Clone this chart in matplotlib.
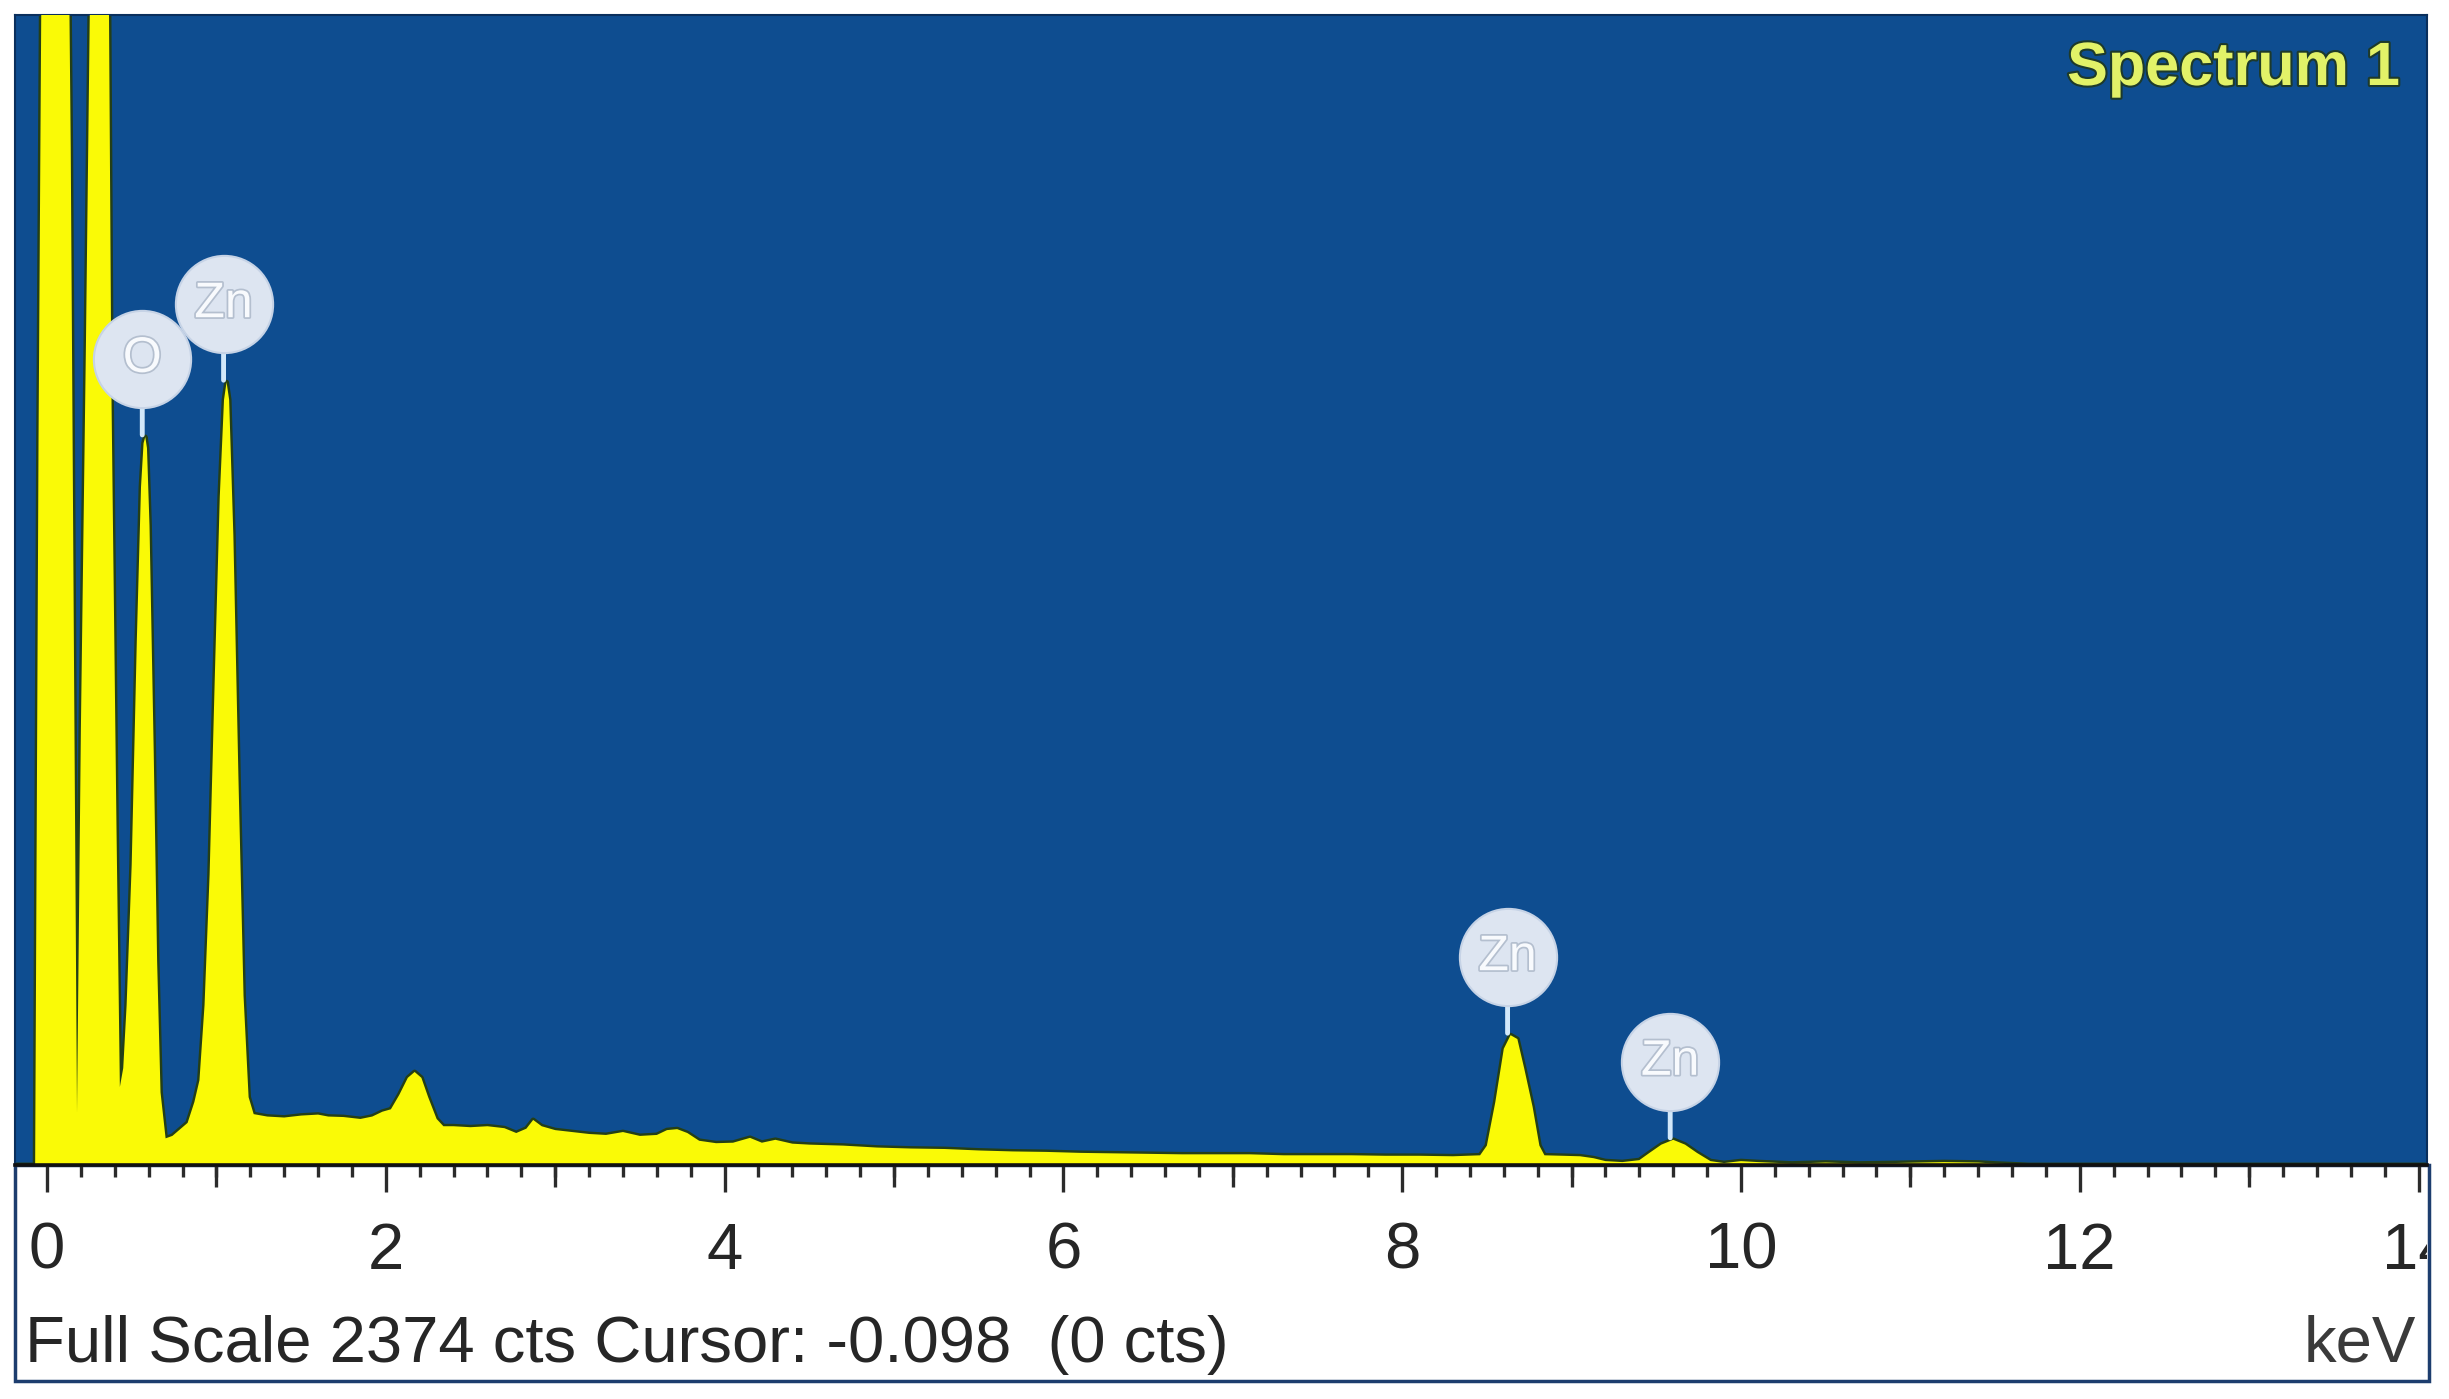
import matplotlib
matplotlib.use("Agg")
import matplotlib.pyplot as plt
from matplotlib.patches import Rectangle
from matplotlib.transforms import offset_copy
import matplotlib.patheffects as pe

plt.rcParams['font.family'] = ['Liberation Sans', 'DejaVu Sans']

# ---------------- data ----------------
energy_kev = [
    -0.19, -0.07, -0.05, -0.03, 0.00, 0.04, 0.08, 0.11, 0.14, 0.16,
    0.177, 0.20, 0.23, 0.26, 0.30, 0.33, 0.36, 0.38, 0.41, 0.43,
    0.45, 0.47, 0.50, 0.53, 0.555, 0.57, 0.58, 0.59,
    0.605, 0.63, 0.65, 0.67, 0.70, 0.74, 0.78, 0.83, 0.87, 0.90,
    0.93, 0.96, 0.99, 1.02, 1.045, 1.06, 1.075, 1.10, 1.13, 1.16,
    1.19, 1.22, 1.30, 1.40, 1.50, 1.60, 1.66, 1.75, 1.85, 1.92,
    1.98, 2.03, 2.08, 2.13, 2.17, 2.21, 2.25, 2.30, 2.34, 2.40,
    2.50, 2.60, 2.70, 2.77, 2.83, 2.87, 2.92, 3.00, 3.10, 3.20,
    3.30, 3.40, 3.50, 3.60, 3.66, 3.72, 3.78, 3.85, 3.95, 4.05,
    4.15, 4.22, 4.30, 4.40, 4.50, 4.70, 4.90, 5.10, 5.30, 5.50,
    5.70, 5.90, 6.10, 6.30, 6.50, 6.70, 6.90, 7.10, 7.30, 7.50,
    7.70, 7.90, 8.10, 8.30, 8.46, 8.50, 8.55, 8.60, 8.64, 8.68,
    8.72, 8.77, 8.81, 8.84, 8.95, 9.05, 9.13, 9.20, 9.30, 9.40,
    9.46, 9.53, 9.60, 9.67, 9.74, 9.82, 9.90, 10.00, 10.10, 10.30,
    10.50, 10.70, 10.90, 11.20, 11.40, 11.50, 11.70, 14.10,
]
counts = [
    0, 0, 1500, 2600, 4500, 5500, 4500, 3200, 2100, 1000,
    107, 900, 1700, 2600, 4000, 3800, 2700, 1600, 700, 161,
    200, 330, 620, 1080, 1400, 1490, 1503, 1480,
    1320, 850, 420, 150, 55, 60, 72, 87, 130, 175,
    330, 600, 1000, 1380, 1580, 1616, 1580, 1300, 800, 350,
    140, 105, 100, 98, 102, 104, 100, 99, 95, 100,
    110, 115, 145, 180, 192, 180, 140, 95, 80, 80,
    78, 80, 76, 66, 75, 93, 80, 72, 68, 64,
    62, 68, 60, 62, 72, 74, 66, 50, 45, 46,
    56, 46, 52, 44, 42, 40, 36, 34, 33, 30,
    28, 27, 25, 24, 23, 22, 22, 22, 20, 20,
    20, 19, 19, 18, 20, 40, 130, 240, 268, 260,
    200, 120, 40, 20, 19, 18, 14, 8, 6, 10,
    25, 42, 52, 42, 25, 8, 4, 8, 6, 3,
    5, 3, 4, 6, 5, 3, 0, 0,
]

peak_labels = ["O", "Zn", "Zn", "Zn"]
label_energy = [0.58, 1.06, 8.64, 9.60]
label_counts = [1503, 1616, 268, 52]

full_scale = 2374
major_ticks = [0, 2, 4, 6, 8, 10, 12, 14]
tick_labels = ["0", "2", "4", "6", "8", "10", "12", "14"]
odd_ticks = [1, 3, 5, 7, 9, 11, 13]
status_text = "Full Scale 2374 cts Cursor: -0.098  (0 cts)"
unit_text = "keV"
spectrum_title = "Spectrum 1"

# ---------------- figure ----------------
W, H = 2449, 1399
fig = plt.figure(figsize=(W / 100, H / 100), dpi=100)
fig.patch.set_facecolor('white')

ax_l, ax_r, ax_t, ax_b = 15, 2427, 15, 1165
ax = fig.add_axes([ax_l / W, 1 - ax_b / H, (ax_r - ax_l) / W, (ax_b - ax_t) / H])
ax.set_facecolor('#0e4d90')
ax.set_xlim(-0.189, 14.05)
ax.set_ylim(0, full_scale)

# spectrum: dark halo outline + yellow fill
ax.plot(energy_kev, counts, color='#243f16', lw=3.5, zorder=2)
ax.fill_between(energy_kev, counts, 0, color='#fafa06', lw=0, zorder=3)

# spines
for s in ['top', 'left', 'right']:
    ax.spines[s].set_color('#0a2f5c')
    ax.spines[s].set_linewidth(1.5)
ax.spines['bottom'].set_color('#111111')
ax.spines['bottom'].set_linewidth(2.6)
ax.spines['bottom'].set_zorder(5)

ax.set_yticks([])
ax.set_xticks(major_ticks)
ax.set_xticklabels(tick_labels)
ax.set_xticks([i * 0.2 for i in range(0, 71)], minor=True)
ax.tick_params(axis='x', which='major', direction='out', length=19.5, width=2.4,
               color='#2b2b2b', pad=21.5, labelsize=47, labelcolor='#262626')
ax.tick_params(axis='x', which='minor', direction='out', length=8.6, width=2.4,
               color='#2b2b2b')

sec = ax.secondary_xaxis('bottom')
sec.set_xticks(odd_ticks)
sec.tick_params(axis='x', length=15.5, width=2.4, color='#2b2b2b', labelbottom=False)
sec.spines['bottom'].set_visible(False)
sec.xaxis.set_minor_locator(matplotlib.ticker.NullLocator())

# lower status panel
panel = Rectangle((ax_l / W, 1 - 1381 / H), (2429 - ax_l) / W, (1381 - ax_b) / H,
                  transform=fig.transFigure, facecolor='none', edgecolor='#1d3d6e',
                  lw=2.5, zorder=0)
fig.add_artist(panel)

clip_rect = Rectangle((ax_l / W, 0), (2427 - ax_l) / W, 1, transform=fig.transFigure,
                      facecolor='none', edgecolor='none')
fig.add_artist(clip_rect)

fig.text(25 / W, 1 - 1362 / H, status_text, ha='left', va='baseline',
         fontsize=47, color='#262626')
fig.text(2416 / W, 1 - 1362 / H, unit_text, ha='right', va='baseline',
         fontsize=47, color='#3a3a3a')

# title
ax.text((2400 - ax_l) / (ax_r - ax_l), (ax_b - 85) / (ax_b - ax_t), spectrum_title,
        transform=ax.transAxes, ha='right', va='baseline', fontsize=44,
        fontweight='bold', color='#e2f268',
        path_effects=[pe.withStroke(linewidth=3, foreground='#1d3a2a')], zorder=8)

# element badges
for lab, e, h in zip(peak_labels, label_energy, label_counts):
    t_badge = offset_copy(ax.transData, fig=fig, x=-3, y=78, units='dots')
    ax.annotate('', xy=(e, h), xycoords=offset_copy(ax.transData, fig=fig, x=-3, y=2, units='dots'),
                xytext=(e, h), textcoords=offset_copy(ax.transData, fig=fig, x=-3, y=40, units='dots'),
                arrowprops=dict(arrowstyle='-', color='#d2e8fa', lw=3.5, shrinkA=0, shrinkB=0),
                annotation_clip=False, zorder=6)
    ax.plot([e], [h], marker='o', ms=70, mfc='#dde5f1', mec='#c6d3e6', mew=1.5,
            transform=t_badge, clip_on=False, zorder=7)
    ax.text(e, h, lab, transform=t_badge, ha='center', va='center', fontsize=36,
            color='#f8fafd', zorder=8,
            path_effects=[pe.withStroke(linewidth=2.5, foreground='#b4bfcf')])

fig.canvas.draw()
for tk in ax.xaxis.get_major_ticks():
    tk.label1.set_clip_path(clip_rect)

fig.savefig('out.png', dpi=100, facecolor='white')
